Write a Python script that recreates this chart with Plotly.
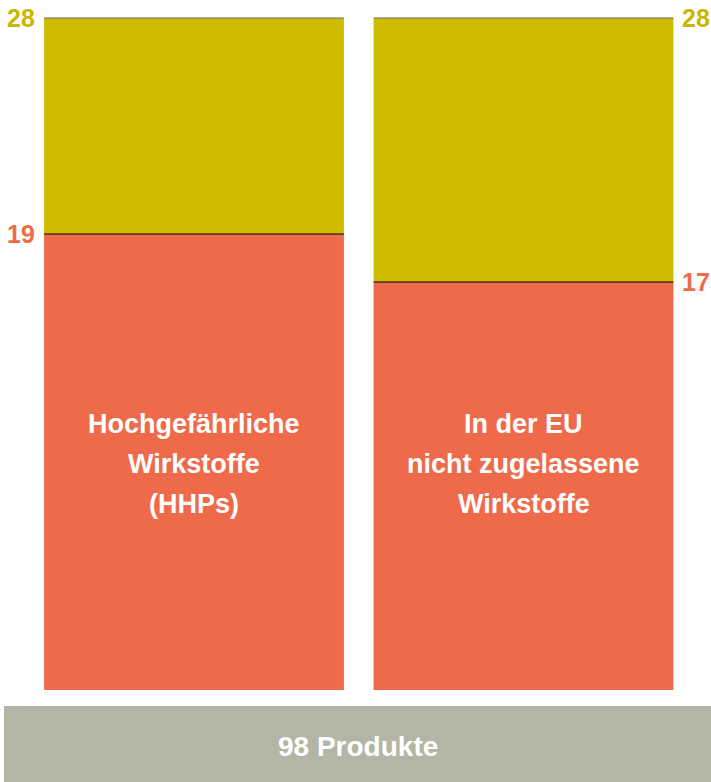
import plotly.graph_objects as go

# Data
categories = ["HHP", "EU"]
lower_values = [19, 17]          # red segment
totals = [28, 28]                # total height
upper_values = [t - l for t, l in zip(totals, lower_values)]
bar_texts = [["Hochgefährliche", "Wirkstoffe", "(HHPs)"],
             ["In der EU", "nicht zugelassene", "Wirkstoffe"]]
band_text = "98 Produkte"

RED = "#EF6A4A"
YELLOW = "#CFBC00"
YELLOW_TXT = "#C9B700"
GRAY = "#B3B6A5"
FONT = "Liberation Sans"

W, H = 711, 782
BAR_W = 0.91
x = [0, 1]

fig = go.Figure()
fig.add_bar(x=x, y=lower_values, marker=dict(color=RED, line=dict(width=0)), width=BAR_W,
            hoverinfo="skip")
fig.add_bar(x=x, y=upper_values, base=lower_values, marker=dict(color=YELLOW, line=dict(width=0)),
            width=BAR_W, hoverinfo="skip")

# boundary lines
for xi, lo, tot in zip(x, lower_values, totals):
    fig.add_shape(type="line", xref="x", yref="y", x0=xi - BAR_W / 2, x1=xi + BAR_W / 2,
                  y0=tot, y1=tot, line=dict(color="#666666", width=1.2))
    fig.add_shape(type="line", xref="x", yref="y", x0=xi - BAR_W / 2, x1=xi + BAR_W / 2,
                  y0=lo, y1=lo, line=dict(color="#000000", width=1.2))

# value labels
for i, (xi, lo, tot) in enumerate(zip(x, lower_values, totals)):
    if i == 0:
        ax, anchor, shift = xi - BAR_W / 2, "right", -7
    else:
        ax, anchor, shift = xi + BAR_W / 2, "left", 7
    fig.add_annotation(x=ax, y=tot, xref="x", yref="y", text=str(tot), showarrow=False,
                       xanchor=anchor, yanchor="middle", xshift=shift,
                       font=dict(family=FONT, size=25, color=YELLOW_TXT, weight="bold"))
    fig.add_annotation(x=ax, y=lo, xref="x", yref="y", text=str(lo), showarrow=False,
                       xanchor=anchor, yanchor="middle", xshift=shift,
                       font=dict(family=FONT, size=25, color=RED, weight="bold"))

# bar inner texts
mid_paper = 1 - 464 / H
for xi, lines in zip(x, bar_texts):
    for j, line in enumerate(lines):
        fig.add_annotation(x=xi, y=mid_paper, xref="x", yref="paper", text=line,
                           showarrow=False, xanchor="center", yanchor="middle",
                           yshift=(1 - j) * 40,
                           font=dict(family=FONT, size=27, color="white", weight="bold"))

# bottom band
fig.add_shape(type="rect", xref="paper", yref="paper", x0=4 / W, x1=1, y0=0, y1=1 - 706 / H,
              fillcolor=GRAY, line=dict(width=0), layer="below")
fig.add_annotation(x=358 / W, y=1 - 746 / H, xref="paper", yref="paper", text=band_text,
                   showarrow=False, xanchor="center", yanchor="middle",
                   font=dict(family=FONT, size=28, color="white", weight="bold"))

px_per_unit = (690 - 18) / 28
y_top = 28 + 18 / px_per_unit
y_bot = -(H - 690) / px_per_unit
unit_px = 329.5
x_min = -194 / unit_px
x_max = (W - 194) / unit_px

fig.update_layout(
    width=W, height=H, barmode="overlay", showlegend=False,
    margin=dict(l=0, r=0, t=0, b=0),
    paper_bgcolor="white", plot_bgcolor="rgba(0,0,0,0)",
    xaxis=dict(range=[x_min, x_max], visible=False, fixedrange=True),
    yaxis=dict(range=[y_bot, y_top], visible=False, fixedrange=True),
)

fig.write_html("out.html", config={"displayModeBar": False},
               post_script="document.body.style.margin='0';document.body.style.overflow='hidden';")
